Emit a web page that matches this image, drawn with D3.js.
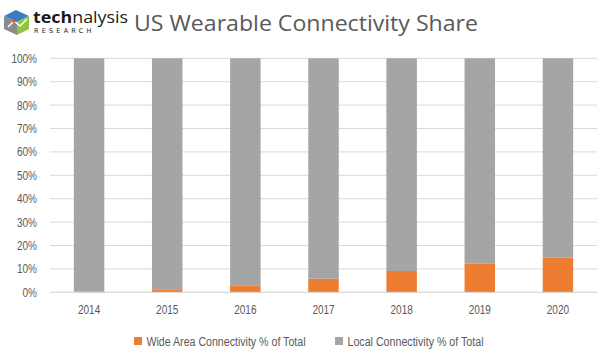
<!DOCTYPE html>
<html><head><meta charset="utf-8">
<script src="https://cdn.jsdelivr.net/npm/d3@7"></script>
<style>
body{margin:0;background:#fff;}
svg{display:block;}
.cond{font-family:"Liberation Sans",Arial,sans-serif;}
</style></head>
<body><svg id="c" width="611" height="363"></svg>
<script>
const years = ["2014","2015","2016","2017","2018","2019","2020"];
const wideArea = [0.4, 1.3, 3.0, 5.8, 9.1, 12.2, 14.9];
const local = wideArea.map(v => 100 - v);
const yTicks = [0,10,20,30,40,50,60,70,80,90,100];
const seriesNames = ["Wide Area Connectivity % of Total", "Local Connectivity % of Total"];
const colors = ["#ED7D31", "#A5A5A5"];

const svg = d3.select("#c");
const x = d3.scaleBand().domain(years).range([50, 597]).paddingInner(0.61).paddingOuter(0.305);
const y = d3.scaleLinear().domain([0,100]).range([292.3, 58.3]);

function condense(sel, f){
  sel.each(function(){
    const L = this.getComputedTextLength();
    d3.select(this).attr("textLength", L*f).attr("lengthAdjust","spacingAndGlyphs");
  });
}

// gridlines
svg.append("g").selectAll("line").data(yTicks).join("line")
  .attr("x1",50).attr("x2",597)
  .attr("y1",d=>y(d)).attr("y2",d=>y(d))
  .attr("stroke","#d9d9d9").attr("stroke-width",1);

// y labels
const yAxis = d3.axisLeft(y).tickValues(yTicks).tickFormat(d=>d+"%").tickSize(0).tickPadding(0);
const ga = svg.append("g").attr("transform","translate(37,0)").call(yAxis);
ga.select(".domain").remove();
ga.selectAll("text").attr("class","cond").attr("font-size",12.5).attr("fill","#595959").attr("font-family",null).call(condense,0.8);

// stacked bars
const rows = years.map((yr,i)=>({year:yr, w:wideArea[i], l:local[i]}));
const stack = d3.stack().keys(["w","l"])(rows);
svg.append("g").selectAll("g").data(stack).join("g")
  .attr("fill",(d,i)=>colors[i])
  .selectAll("rect").data(d=>d).join("rect")
  .attr("x",d=>x(d.data.year))
  .attr("width",x.bandwidth())
  .attr("y",d=>y(d[1]))
  .attr("height",d=>y(d[0])-y(d[1]));

// baseline
svg.append("line").attr("x1",50).attr("x2",597).attr("y1",y(0)).attr("y2",y(0))
  .attr("stroke","#d9d9d9");

// x labels
const xAxis = d3.axisBottom(x).tickSize(0).tickPadding(0);
const gx = svg.append("g").attr("transform","translate(0,305)").call(xAxis);
gx.select(".domain").remove();
gx.selectAll("text").attr("class","cond").attr("font-size",12.5).attr("fill","#595959").attr("font-family",null).call(condense,0.8);

// legend
const legX = [134, 335];
const legW = [159, 136];
const lg = svg.append("g").selectAll("g").data(seriesNames).join("g")
  .attr("transform",(d,i)=>`translate(${legX[i]},337)`);
lg.append("rect").attr("width",8).attr("height",8).attr("fill",(d,i)=>colors[i]);
lg.append("text").attr("class","cond").attr("x",12.5).attr("y",8.5)
  .attr("font-size",12.5).attr("fill","#595959").text(d=>d)
  .attr("textLength",(d,i)=>legW[i]).attr("lengthAdjust","spacingAndGlyphs");

// title
svg.append("text").attr("x",134).attr("y",31)
  .attr("font-family","'Open Sans','Noto Sans',sans-serif").attr("font-size",22.5)
  .attr("fill","#595959").text("US Wearable Connectivity Share")
  .attr("textLength",344).attr("lengthAdjust","spacingAndGlyphs");

// logo
const logo = svg.append("g");
logo.append("polygon").attr("points","4,16 16,10 29,16 17,22").attr("fill","#3a7cc4");
logo.append("polygon").attr("points","4,16 17,22 17,35 4,29").attr("fill","#8a8a8a");
logo.append("polygon").attr("points","17,22 29,16 29,29 17,35").attr("fill","#8cc63f");
logo.append("polyline").attr("points","8,27 14,21 20,26 27,19").attr("fill","none")
  .attr("stroke","#fff").attr("stroke-width",1.5);
logo.append("circle").attr("cx",14).attr("cy",21).attr("r",1.8).attr("fill","#e8502b");
logo.append("text").attr("x",33).attr("y",23).attr("font-family","'Open Sans',sans-serif")
  .attr("font-size",16).attr("fill","#1a1a1a")
  .call(t=>{t.append("tspan").attr("font-weight","bold").text("tech");
            t.append("tspan").attr("font-weight","normal").text("nalysis");})
  .attr("textLength",95).attr("lengthAdjust","spacingAndGlyphs");
logo.append("text").attr("x",34).attr("y",33).attr("font-family","'DejaVu Sans',sans-serif")
  .attr("font-size",6.5).attr("fill","#1a1a1a").attr("letter-spacing",3.2).text("RESEARCH");
</script></body></html>
